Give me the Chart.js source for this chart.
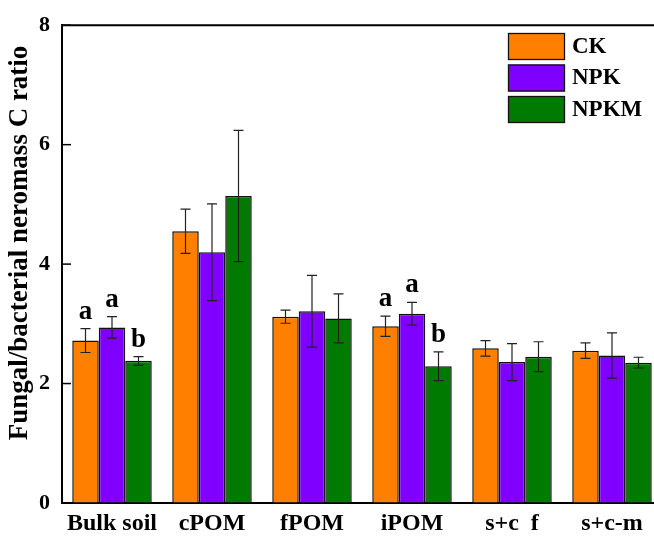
<!DOCTYPE html>
<html><head><meta charset="utf-8">
<script src="https://cdn.jsdelivr.net/npm/chart.js@4"></script>
<style>html,body{margin:0;padding:0;background:#fff;overflow:hidden;width:654px;height:537px}#wrap{position:absolute;left:0;top:0;width:670px;height:537px}</style>
</head><body><div id="wrap"><canvas id="c" width="670" height="537"></canvas></div>
<script>
const categories = ["Bulk soil", "cPOM", "fPOM", "iPOM", "s+c  f", "s+c-m"];
const seriesNames = ["CK", "NPK", "NPKM"];
const ckValues   = [2.72, 4.55, 3.12, 2.96, 2.59, 2.55];
const npkValues  = [2.94, 4.20, 3.21, 3.17, 2.36, 2.47];
const npkmValues = [2.38, 5.14, 3.09, 2.29, 2.45, 2.35];
const ckErr   = [0.20, 0.37, 0.11, 0.17, 0.13, 0.13];
const npkErr  = [0.18, 0.81, 0.60, 0.19, 0.31, 0.38];
const npkmErr = [0.07, 1.10, 0.41, 0.24, 0.25, 0.09];
const ckLetters   = ["a", "", "", "a", "", ""];
const npkLetters  = ["a", "", "", "a", "", ""];
const npkmLetters = ["b", "", "", "b", "", ""];
const yTicks = [0, 2, 4, 6, 8];
const colors = ["#FF8000", "#8000FF", "#007A00"];
const yTitle = "Fungal/bacterial neromass C ratio";

const FONT = "'Liberation Serif', 'Times New Roman', serif";
const errs = [ckErr, npkErr, npkmErr];
const letters = [ckLetters, npkLetters, npkmLetters];

const extras = {
  id: 'extras',
  afterDatasetsDraw(chart) {
    const ctx = chart.ctx, y = chart.scales.y, area = chart.chartArea;
    ctx.save();
    chart.data.datasets.forEach((ds, di) => {
      const meta = chart.getDatasetMeta(di);
      meta.data.forEach((bar, i) => {
        const v = ds.data[i], e = errs[di][i];
        const x = bar.x;
        const yt = y.getPixelForValue(v + e), yb = y.getPixelForValue(v - e);
        ctx.strokeStyle = '#222'; ctx.lineWidth = 1.2;
        ctx.beginPath();
        ctx.moveTo(x, yt); ctx.lineTo(x, yb);
        ctx.moveTo(x - 5, yt); ctx.lineTo(x + 5, yt);
        ctx.moveTo(x - 5, yb); ctx.lineTo(x + 5, yb);
        ctx.stroke();
        const L = letters[di][i];
        if (L) {
          ctx.fillStyle = '#000';
          ctx.font = "bold 27px " + FONT;
          ctx.textAlign = 'center'; ctx.textBaseline = 'alphabetic';
          ctx.fillText(L, x, yt - 10);
        }
      });
    });
    ctx.strokeStyle = '#000'; ctx.lineWidth = 2;
    ctx.beginPath();
    const yTop = y.getPixelForValue(8);
    ctx.moveTo(area.left - 1, yTop); ctx.lineTo(chart.width, yTop);
    ctx.stroke();
    ctx.lineWidth = 1.5;
    yTicks.forEach(t => {
      const py = y.getPixelForValue(t);
      ctx.beginPath(); ctx.moveTo(area.left, py); ctx.lineTo(area.left + 9, py); ctx.stroke();
    });
    chart.data.datasets.forEach((ds, di) => {
      const bx = 508, by = 33 + di * 31.5;
      ctx.fillStyle = ds.backgroundColor;
      ctx.fillRect(bx, by, 57, 27);
      ctx.strokeStyle = '#111'; ctx.lineWidth = 1.3;
      ctx.strokeRect(bx + 0.5, by + 0.5, 56, 26);
      ctx.fillStyle = '#000';
      ctx.font = "bold 23px " + FONT;
      ctx.textAlign = 'left'; ctx.textBaseline = 'middle';
      ctx.fillText(ds.label, 572, by + 14);
    });
    ctx.save();
    ctx.translate(20, 243);
    ctx.rotate(-Math.PI / 2);
    ctx.font = "bold 27px " + FONT;
    ctx.fillStyle = '#000';
    ctx.textAlign = 'center'; ctx.textBaseline = 'middle';
    ctx.fillText(yTitle, 0, 0);
    ctx.restore();
    ctx.restore();
  }
};

new Chart(document.getElementById('c'), {
  type: 'bar',
  data: {
    labels: categories,
    datasets: [ckValues, npkValues, npkmValues].map((d, i) => ({
      label: seriesNames[i], data: d, backgroundColor: colors[i],
      borderColor: '#111', borderWidth: 1.5,
      categoryPercentage: 0.795, barPercentage: 1.0
    }))
  },
  options: {
    responsive: false, animation: false,
    layout: { padding: { top: 22, right: 8, left: 0, bottom: 0 } },
    plugins: { legend: { display: false }, tooltip: { enabled: false } },
    scales: {
      x: {
        grid: { display: false, drawTicks: false },
        border: { display: true, color: '#000', width: 2 },
        ticks: { color: '#000', font: { family: FONT, size: 24, weight: 'bold' }, padding: 6, maxRotation: 0, autoSkip: false },
        afterFit(s) { s.height = 34; }
      },
      y: {
        min: 0, max: 8,
        afterBuildTicks(s) { s.ticks = yTicks.map(v => ({ value: v })); },
        grid: { display: true, drawOnChartArea: false, drawTicks: false },
        border: { display: true, color: '#000', width: 2 },
        ticks: { color: '#000', font: { family: FONT, size: 22, weight: 'bold' }, padding: 12 },
        afterFit(s) { s.width = 62; }
      }
    }
  },
  plugins: [extras]
});
</script></body></html>
